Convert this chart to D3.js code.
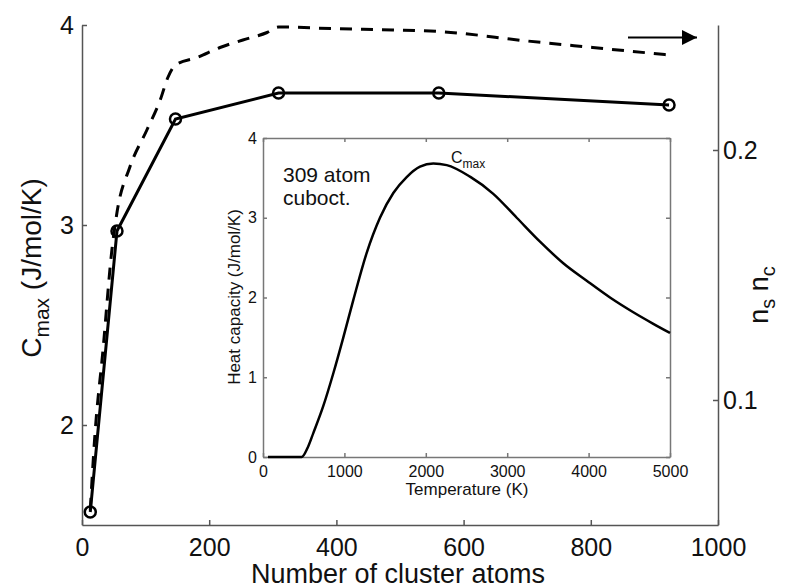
<!DOCTYPE html>
<html>
<head>
<meta charset="utf-8">
<script src="https://cdn.jsdelivr.net/npm/d3@7"></script>
<style>
  body { margin: 0; background: #fff; }
  svg { font-family: "Liberation Sans", Arial, sans-serif; }
</style>
</head>
<body>
<div id="chart"></div>
<script>
// Dados
const clusterSizes = [13, 55, 147, 309, 561, 923];
const cmaxValues = [1.565, 2.97, 3.53, 3.66, 3.66, 3.60];

// n_s n_c (eixo direito), curva tracejada
const nsncAtoms = [13, 20, 33, 47, 55, 75, 102, 123, 135, 147, 181, 217, 253, 291, 309, 400, 489, 561, 700, 803, 923];
const nsncValues = [0.056, 0.085, 0.12, 0.16, 0.175, 0.193, 0.208, 0.22, 0.229, 0.234, 0.237, 0.241, 0.244, 0.247, 0.2492, 0.2485, 0.248, 0.2474, 0.2436, 0.241, 0.238];

// Inset: capacidade calorífica do cluster de 309 átomos
const heatTemps = [60, 475, 550, 618, 741, 864, 987, 1110, 1274, 1437, 1601, 1765, 1929, 2092, 2257, 2543, 2829, 3117, 3403, 3689, 3977, 4263, 4549, 4795, 5000];
const heatValues = [0, 0, 0.12, 0.3, 0.64, 1.05, 1.5, 1.97, 2.56, 3.0, 3.31, 3.51, 3.64, 3.68, 3.66, 3.515, 3.30, 3.00, 2.70, 2.43, 2.21, 2.00, 1.815, 1.67, 1.555];

// Ticks
const mainXTicks = [0, 200, 400, 600, 800, 1000];
const leftTicks = [2, 3, 4];
const rightTicks = [0.1, 0.2];
const insetXTicks = [0, 1000, 2000, 3000, 4000, 5000];
const insetYTicks = [0, 1, 2, 3, 4];

const W = 790, H = 588;
const svg = d3.select('#chart').append('svg').attr('width', W).attr('height', H);
const plain = d => String(d);

// Escalas principais
const x = d3.scaleLinear().domain([0, 1000]).range([82, 718]);
const yL = d3.scaleLinear().domain([1.5, 4]).range([525, 25]);
const yR = d3.scaleLinear().domain([0.05, 0.25]).range([525, 25]);

const axisColor = '#555';

function styleAxis(g, fontSize, color) {
  g.select('.domain').attr('stroke', color).attr('stroke-width', 1.5);
  g.selectAll('.tick line').attr('stroke', color).attr('stroke-width', 1.5);
  g.selectAll('.tick text').attr('fill', '#111').style('font-size', fontSize + 'px');
}

// Eixo X
const gx = svg.append('g').attr('transform', 'translate(0,525)')
  .call(d3.axisBottom(x).tickValues(mainXTicks).tickFormat(plain).tickSizeInner(-5).tickSizeOuter(0).tickPadding(13));
styleAxis(gx, 25, axisColor);

// Eixo Y esquerdo
const gyl = svg.append('g').attr('transform', 'translate(82,0)')
  .call(d3.axisLeft(yL).tickValues(leftTicks).tickFormat(plain).tickSizeInner(-5).tickSizeOuter(0).tickPadding(8));
styleAxis(gyl, 25, axisColor);

// Eixo Y direito
const gyr = svg.append('g').attr('transform', 'translate(718,0)')
  .call(d3.axisRight(yR).tickValues(rightTicks).tickFormat(plain).tickSizeInner(-5).tickSizeOuter(0).tickPadding(5));
styleAxis(gyr, 25, axisColor);

// Curva tracejada (n_s n_c)
const nsncData = nsncAtoms.map((n, i) => ({ n, v: nsncValues[i] }));
svg.append('path')
  .datum(nsncData)
  .attr('fill', 'none')
  .attr('stroke', '#000')
  .attr('stroke-width', 3)
  .attr('stroke-dasharray', '12,9')
  .attr('d', d3.line().x(d => x(d.n)).y(d => yR(d.v)).curve(d3.curveMonotoneX));

// Linha sólida com círculos (C_max)
const cmaxData = clusterSizes.map((n, i) => ({ n, v: cmaxValues[i] }));
svg.append('path')
  .datum(cmaxData)
  .attr('fill', 'none')
  .attr('stroke', '#000')
  .attr('stroke-width', 3)
  .attr('d', d3.line().x(d => x(d.n)).y(d => yL(d.v)));

svg.selectAll('.pt')
  .data(cmaxData)
  .enter()
  .append('circle')
  .attr('class', 'pt')
  .attr('cx', d => x(d.n))
  .attr('cy', d => yL(d.v))
  .attr('r', 5.5)
  .attr('fill', 'none')
  .attr('stroke', '#000')
  .attr('stroke-width', 2.5);

// Seta apontando para o eixo direito
svg.append('defs').append('marker')
  .attr('id', 'arrowhead')
  .attr('viewBox', '0 0 15 15')
  .attr('refX', 15).attr('refY', 7.5)
  .attr('markerWidth', 15).attr('markerHeight', 15)
  .attr('markerUnits', 'userSpaceOnUse')
  .attr('orient', 'auto')
  .append('path').attr('d', 'M0,0L15,7.5L0,15Z').attr('fill', '#000');

svg.append('line')
  .attr('x1', 628).attr('y1', 37.5)
  .attr('x2', 697).attr('y2', 37.5)
  .attr('stroke', '#000').attr('stroke-width', 2)
  .attr('marker-end', 'url(#arrowhead)');

// Rótulos dos eixos principais
svg.append('text')
  .attr('x', 398).attr('y', 583)
  .attr('text-anchor', 'middle')
  .style('font-size', '27px')
  .attr('fill', '#111')
  .text('Number of cluster atoms');

const yLabel = svg.append('text')
  .attr('transform', 'translate(41,268) rotate(-90)')
  .attr('text-anchor', 'middle')
  .style('font-size', '28px')
  .attr('fill', '#111');
yLabel.append('tspan').text('C');
yLabel.append('tspan').attr('dy', 8).style('font-size', '21px').text('max');
yLabel.append('tspan').attr('dy', -8).text(' (J/mol/K)');

const rLabel = svg.append('text')
  .attr('transform', 'translate(768,295) rotate(-90)')
  .attr('text-anchor', 'middle')
  .style('font-size', '27px')
  .attr('fill', '#111');
rLabel.append('tspan').text('n');
rLabel.append('tspan').attr('dy', 7).style('font-size', '20px').text('s');
rLabel.append('tspan').attr('dy', -7).text(' n');
rLabel.append('tspan').attr('dy', 7).style('font-size', '20px').text('c');

// ---------- Inset ----------
const ix = d3.scaleLinear().domain([0, 5000]).range([263, 670]);
const iy = d3.scaleLinear().domain([0, 4]).range([457, 138]);
const insetColor = '#777';

svg.append('rect')
  .attr('x', 263).attr('y', 138)
  .attr('width', 670 - 263).attr('height', 457 - 138)
  .attr('fill', '#fff');

const ixb = svg.append('g').attr('transform', 'translate(0,457)')
  .call(d3.axisBottom(ix).tickValues(insetXTicks).tickFormat(plain).tickSizeInner(-4).tickSizeOuter(0).tickPadding(9));
styleAxis(ixb, 16, insetColor);

const ixt = svg.append('g').attr('transform', 'translate(0,138)')
  .call(d3.axisTop(ix).tickValues(insetXTicks).tickSizeInner(-4).tickSizeOuter(0).tickFormat(''));
styleAxis(ixt, 16, insetColor);

const iyl = svg.append('g').attr('transform', 'translate(263,0)')
  .call(d3.axisLeft(iy).tickValues(insetYTicks).tickFormat(plain).tickSizeInner(-4).tickSizeOuter(0).tickPadding(6));
styleAxis(iyl, 16, insetColor);

const iyr = svg.append('g').attr('transform', 'translate(670,0)')
  .call(d3.axisRight(iy).tickValues(insetYTicks).tickSizeInner(-4).tickSizeOuter(0).tickFormat(''));
styleAxis(iyr, 16, insetColor);

const heatData = heatTemps.map((t, i) => ({ t, c: heatValues[i] }));
svg.append('path')
  .datum(heatData)
  .attr('fill', 'none')
  .attr('stroke', '#000')
  .attr('stroke-width', 2.5)
  .attr('d', d3.line().x(d => ix(d.t)).y(d => iy(d.c)).curve(d3.curveMonotoneX));

svg.append('text')
  .attr('x', 467).attr('y', 495)
  .attr('text-anchor', 'middle')
  .style('font-size', '17px')
  .attr('fill', '#111')
  .text('Temperature (K)');

svg.append('text')
  .attr('transform', 'translate(240,297) rotate(-90)')
  .attr('text-anchor', 'middle')
  .style('font-size', '17px')
  .attr('fill', '#111')
  .text('Heat capacity (J/mol/K)');

svg.append('text')
  .attr('x', 283).attr('y', 182)
  .style('font-size', '21px')
  .attr('fill', '#111')
  .text('309 atom');
svg.append('text')
  .attr('x', 283).attr('y', 205)
  .style('font-size', '21px')
  .attr('fill', '#111')
  .text('cuboct.');

const cmaxLabel = svg.append('text')
  .attr('x', 451).attr('y', 163)
  .style('font-size', '16px')
  .attr('fill', '#111');
cmaxLabel.append('tspan').text('C');
cmaxLabel.append('tspan').attr('dy', 5).style('font-size', '12px').text('max');
</script>
</body>
</html>
